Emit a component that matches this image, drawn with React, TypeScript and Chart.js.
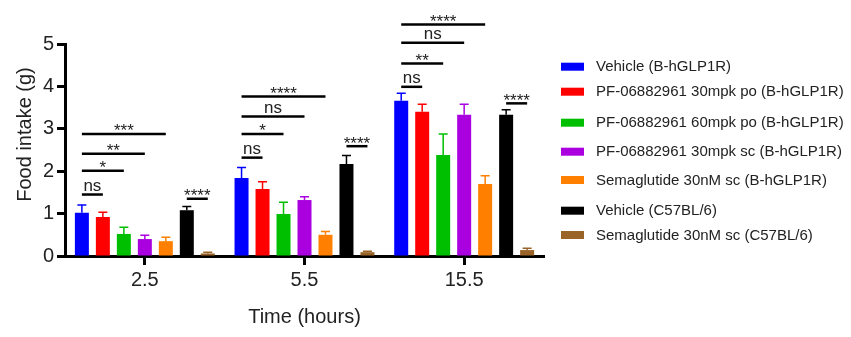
import React, { useEffect, useRef } from 'react';
import { Chart, registerables } from 'chart.js';

Chart.register(...registerables);

const FONT = '"Liberation Sans", Arial, Helvetica, sans-serif';

const categories = ['2.5', '5.5', '15.5'];

const seriesLabels = [
  'Vehicle (B-hGLP1R)',
  'PF-06882961 30mpk po (B-hGLP1R)',
  'PF-06882961 60mpk po (B-hGLP1R)',
  'PF-06882961 30mpk sc (B-hGLP1R)',
  'Semaglutide 30nM sc (B-hGLP1R)',
  'Vehicle (C57BL/6)',
  'Semaglutide 30nM sc (C57BL/6)',
];

const seriesColors = ['#0000FF', '#FF0000', '#00BF00', '#AA00E0', '#FF8000', '#000000', '#9A6428'];

// means (g)
const vehicleHG = [1.02, 1.84, 3.66];
const pf30po = [0.92, 1.58, 3.4];
const pf60po = [0.52, 0.99, 2.38];
const pf30sc = [0.4, 1.32, 3.33];
const semaHG = [0.35, 0.5, 1.7];
const vehicleB6 = [1.08, 2.17, 3.33];
const semaB6 = [0.06, 0.09, 0.14];

// SEM (g)
const vehicleHGErr = [0.18, 0.25, 0.18];
const pf30poErr = [0.11, 0.17, 0.18];
const pf60poErr = [0.16, 0.28, 0.5];
const pf30scErr = [0.09, 0.08, 0.25];
const semaHGErr = [0.09, 0.08, 0.19];
const vehicleB6Err = [0.09, 0.2, 0.12];
const semaB6Err = [0.03, 0.02, 0.04];

const seriesValues = [vehicleHG, pf30po, pf60po, pf30sc, semaHG, vehicleB6, semaB6];
const seriesErrors = [vehicleHGErr, pf30poErr, pf60poErr, pf30scErr, semaHGErr, vehicleB6Err, semaB6Err];

const yMin = 0;
const yMax = 5;
const yStep = 1;

// significance brackets: category index, from series, to series, height (g), label
const bracketGroups = [0, 0, 0, 0, 0, 1, 1, 1, 1, 1, 2, 2, 2, 2, 2];
const bracketFrom = [0, 0, 0, 0, 5, 0, 0, 0, 0, 5, 0, 0, 0, 0, 5];
const bracketTo = [1, 2, 3, 4, 6, 1, 2, 3, 4, 6, 1, 2, 3, 4, 6];
const bracketHeights = [1.45, 2.01, 2.41, 2.88, 1.35, 2.32, 2.88, 3.29, 3.76, 2.59, 3.99, 4.54, 5.03, 5.46, 3.6];
const bracketLabels = ['ns', '*', '**', '***', '****', 'ns', '*', 'ns', '****', '****', 'ns', '**', 'ns', '****', '****'];

const legendRowY = [66.7, 91.7, 122.7, 151.7, 180, 210.7, 235];

const overlayPlugin = {
  id: 'overlay',
  afterDatasetsDraw(chart: any) {
    const ctx = chart.ctx;
    const yScale = chart.scales.y;
    ctx.save();
    chart.data.datasets.forEach((ds: any, i: number) => {
      const meta = chart.getDatasetMeta(i);
      meta.data.forEach((el: any, j: number) => {
        const top = yScale.getPixelForValue(seriesValues[i][j] + seriesErrors[i][j]);
        ctx.strokeStyle = ds.backgroundColor;
        ctx.lineWidth = 1.5;
        ctx.beginPath();
        ctx.moveTo(el.x, el.y);
        ctx.lineTo(el.x, top);
        ctx.moveTo(el.x - 4.5, top);
        ctx.lineTo(el.x + 4.5, top);
        ctx.stroke();
      });
    });
    ctx.restore();
  },
  afterDraw(chart: any) {
    const ctx = chart.ctx;
    const yScale = chart.scales.y;
    ctx.save();
    // brackets
    for (let k = 0; k < bracketLabels.length; k++) {
      const g = bracketGroups[k];
      const x1 = chart.getDatasetMeta(bracketFrom[k]).data[g].x;
      const x2 = chart.getDatasetMeta(bracketTo[k]).data[g].x;
      const y = yScale.getPixelForValue(bracketHeights[k]);
      ctx.strokeStyle = '#000';
      ctx.lineWidth = 2.5;
      ctx.beginPath();
      ctx.moveTo(x1, y);
      ctx.lineTo(x2, y);
      ctx.stroke();
      const label = bracketLabels[k];
      ctx.fillStyle = '#222';
      ctx.textAlign = 'center';
      ctx.textBaseline = 'alphabetic';
      if (label === 'ns') {
        ctx.font = `17px ${FONT}`;
        ctx.fillText(label, (x1 + x2) / 2, y - 4);
      } else {
        ctx.font = `17px ${FONT}`;
        ctx.fillText(label, (x1 + x2) / 2, y + 2.5);
      }
    }
    // legend
    ctx.font = `15px ${FONT}`;
    ctx.textAlign = 'left';
    ctx.textBaseline = 'middle';
    chart.data.datasets.forEach((ds: any, i: number) => {
      const cy = legendRowY[i];
      ctx.fillStyle = ds.backgroundColor;
      ctx.fillRect(561, cy - 4, 23, 8);
      ctx.fillStyle = '#222';
      ctx.fillText(ds.label, 596, cy + 0.5);
    });
    // y title
    ctx.translate(31, 134.5);
    ctx.rotate(-Math.PI / 2);
    ctx.font = `20px ${FONT}`;
    ctx.textAlign = 'center';
    ctx.textBaseline = 'alphabetic';
    ctx.fillStyle = '#222';
    ctx.fillText('Food intake (g)', 0, 0);
    ctx.restore();
  },
};

export default function App() {
  const ref = useRef<HTMLCanvasElement | null>(null);
  useEffect(() => {
    if (!ref.current) return;
    const chart = new Chart(ref.current, {
      type: 'bar',
      data: {
        labels: categories,
        datasets: seriesLabels.map((label, i) => ({
          label,
          data: seriesValues[i],
          backgroundColor: seriesColors[i],
          borderWidth: 0,
          categoryPercentage: 0.92,
          barPercentage: 0.667,
        })),
      },
      options: {
        responsive: false,
        animation: false,
        layout: { padding: { left: 0, right: 307, top: 44, bottom: 0 } },
        plugins: {
          legend: { display: false },
          tooltip: { enabled: false },
        },
        scales: {
          x: {
            type: 'category',
            offset: true,
            grid: {
              display: true,
              drawOnChartArea: false,
              drawTicks: true,
              tickLength: 9,
              tickWidth: 3,
              tickColor: '#000',
              offset: false,
            },
            border: { display: true, width: 3, color: '#000' },
            ticks: { font: { size: 20, family: FONT }, color: '#222', padding: 3 },
            title: {
              display: true,
              text: 'Time (hours)',
              font: { size: 20, family: FONT },
              color: '#222',
              padding: { top: 0, bottom: 8 },
            },
            afterFit: (s: any) => {
              s.height = 81;
            },
          },
          y: {
            min: yMin,
            max: yMax,
            ticks: { stepSize: yStep, font: { size: 20, family: FONT }, color: '#222', padding: 3 },
            grid: {
              display: true,
              drawOnChartArea: false,
              drawTicks: true,
              tickLength: 8,
              tickWidth: 3,
              tickColor: '#000',
            },
            border: { display: true, width: 3, color: '#000' },
            afterFit: (s: any) => {
              s.width = 65;
            },
          },
        },
      } as any,
      plugins: [overlayPlugin],
    });
    return () => chart.destroy();
  }, []);
  return (
    <div style={{ position: 'fixed', left: 0, top: 0, width: 851, height: 337, background: '#fff' }}>
      <canvas ref={ref} width={851} height={337} style={{ width: 851, height: 337, display: 'block' }} />
    </div>
  );
}
